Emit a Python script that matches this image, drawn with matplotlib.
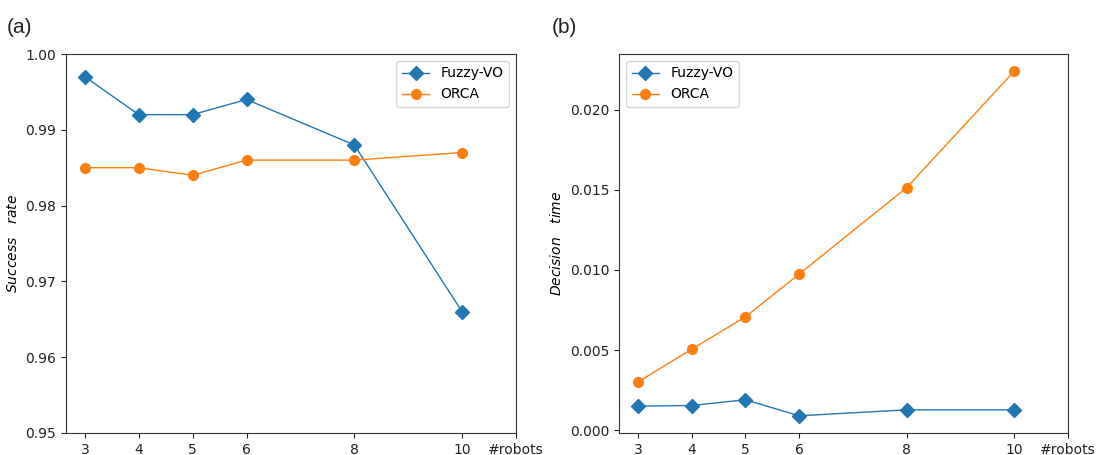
import matplotlib
matplotlib.use("Agg")
import matplotlib.pyplot as plt

robots = [3, 4, 5, 6, 8, 10]
tick_labels = ["3", "4", "5", "6", "8", "10", "#robots"]

success_fuzzy = [0.997, 0.992, 0.992, 0.994, 0.988, 0.966]
success_orca = [0.985, 0.985, 0.984, 0.986, 0.986, 0.987]

time_fuzzy = [0.00150, 0.00154, 0.00190, 0.00090, 0.00127, 0.00127]
time_orca = [0.00300, 0.00505, 0.00707, 0.00974, 0.01514, 0.02240]

blue = "#1f77b4"
orange = "#ff7f0e"

fig = plt.figure(figsize=(11.07, 4.55), dpi=100)
ax1 = fig.add_axes([66 / 1107, 22 / 455, 450 / 1107, 379 / 455])
ax2 = fig.add_axes([619 / 1107, 22 / 455, 449 / 1107, 379 / 455])

for ax in (ax1, ax2):
    for s in ax.spines.values():
        s.set_color("#333333")
    ax.tick_params(labelsize=10, colors="#222222")

ax1.plot(robots, success_fuzzy, marker="D", color=blue, lw=1, ms=7, label="Fuzzy-VO")
ax1.plot(robots, success_orca, marker="o", color=orange, lw=1, ms=7, label="ORCA")
ax1.set_ylim(0.95, 1.00)
ax1.set_yticks([0.95, 0.96, 0.97, 0.98, 0.99, 1.00])
ax1.set_xticks(robots + [11])
ax1.set_xticklabels(tick_labels)
ax1.set_xlim(2.65, 11)
ax1.set_ylabel("$Success\\ \\ \\ rate$", fontsize=10)
ax1.legend(loc="upper right", fontsize=10)

ax2.plot(robots, time_fuzzy, marker="D", color=blue, lw=1, ms=7, label="Fuzzy-VO")
ax2.plot(robots, time_orca, marker="o", color=orange, lw=1, ms=7, label="ORCA")
ax2.set_yticks([0.0, 0.005, 0.010, 0.015, 0.020])
ax2.set_yticklabels(["0.000", "0.005", "0.010", "0.015", "0.020"])
ax2.set_xticks(robots + [11])
ax2.set_xticklabels(tick_labels)
ax2.set_xlim(2.65, 11)
ax2.set_ylabel("$Decision\\ \\ \\ time$", fontsize=10)
ax2.legend(loc="upper left", fontsize=10)

fig.text(7 / 1107, 1 - 33 / 455, "(a)", fontsize=15, family="Liberation Sans", color="#222222")
fig.text(552 / 1107, 1 - 33 / 455, "(b)", fontsize=15, family="Liberation Sans", color="#222222")

fig.savefig("out.png", dpi=100)
